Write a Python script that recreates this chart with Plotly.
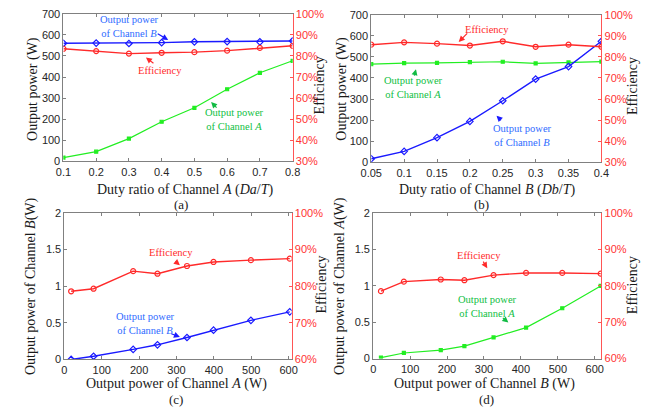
import plotly.graph_objects as go

# ---- data -------------------------------------------------------------
a_duty = [0.1, 0.2, 0.3, 0.4, 0.5, 0.6, 0.7, 0.8]
a_pB = [560, 561, 559, 563, 567, 568, 567, 571]
a_pA = [18, 46, 108, 188, 254, 342, 420, 477]
a_eff = [83.4, 82.3, 81.1, 81.5, 81.8, 82.5, 83.8, 84.8]

b_duty = [0.05, 0.1, 0.15, 0.2, 0.25, 0.3, 0.35, 0.4]
b_pA = [466, 471, 472, 475, 477, 469, 474, 478]
b_pB = [17, 52, 117, 194, 292, 395, 454, 574]
b_eff = [85.8, 86.9, 86.3, 85.4, 87.4, 84.8, 85.8, 84.8]

c_pA = [18, 78, 184, 249, 328, 399, 499, 603]
c_pB = [0.0, 0.044, 0.137, 0.2, 0.3, 0.4, 0.534, 0.65]
c_eff = [78.6, 79.3, 84.1, 83.4, 85.5, 86.6, 87.1, 87.5]

d_pB = [21, 83, 183, 247, 326, 414, 512, 616]
d_pA = [0.013, 0.076, 0.116, 0.17, 0.29, 0.424, 0.69, 0.996]
d_eff = [78.5, 81.1, 81.7, 81.5, 82.9, 83.5, 83.5, 83.3]

a_xticks = [0.1, 0.2, 0.3, 0.4, 0.5, 0.6, 0.7, 0.8]
a_xtext = ["0.1", "0.2", "0.3", "0.4", "0.5", "0.6", "0.7", "0.8"]
b_xticks = [0.05, 0.1, 0.15, 0.2, 0.25, 0.3, 0.35, 0.4]
b_xtext = ["0.05", "0.1", "0.15", "0.2", "0.25", "0.3", "0.35", "0.4"]
cd_xticks = [0, 100, 200, 300, 400, 500, 600]
top_yticks = [0, 100, 200, 300, 400, 500, 600, 700]
bot_yticks = [0, 0.5, 1, 1.5, 2]
bot_ytext = ["0", "0.5", "1", "1.5", "2"]
top_efftick = [30, 40, 50, 60, 70, 80, 90, 100]
bot_efftick = [60, 70, 80, 90, 100]

# ---- style ------------------------------------------------------------
W, H = 656, 415
BLUE, RED, GREEN = "#1a1aff", "#ff2a2a", "#22ee22"
BLUE_T, RED_T, GREEN_T = "#2f6bff", "#ff2a2a", "#11c044"
AXC = "#808080"
RAXC = "#ff5555"
TICKF = dict(family="Liberation Sans", size=11, color="#262626")
SERIF = "Liberation Serif"


def px(x):
    return x / W


def py(y):
    return 1 - y / H


def line(x, y, color, marker, size, xa, ya, width=1.4):
    return go.Scatter(
        x=x, y=y, mode="lines+markers", xaxis=xa, yaxis=ya,
        line=dict(color=color, width=width),
        marker=dict(symbol=marker, size=size, color=color,
                    line=dict(color=color, width=1.2)),
        showlegend=False, hoverinfo="skip")


fig = go.Figure()
# (a)
fig.add_trace(line(a_duty, a_pB, BLUE, "diamond-open", 5, "x", "y"))
fig.add_trace(line(a_duty, a_pA, GREEN, "square", 3, "x", "y", 1.2))
fig.add_trace(line(a_duty, a_eff, RED, "circle-open", 5, "x", "y2"))
# (b)
fig.add_trace(line(b_duty, b_pA, GREEN, "square", 3, "x2", "y3", 1.2))
fig.add_trace(line(b_duty, b_pB, BLUE, "diamond-open", 5, "x2", "y3"))
fig.add_trace(line(b_duty, b_eff, RED, "circle-open", 5, "x2", "y4"))
# (c)
fig.add_trace(line(c_pA, c_pB, BLUE, "diamond-open", 5, "x3", "y5"))
fig.add_trace(line(c_pA, c_eff, RED, "circle-open", 5, "x3", "y6"))
# (d)
fig.add_trace(line(d_pB, d_pA, GREEN, "square", 3, "x4", "y7", 1.2))
fig.add_trace(line(d_pB, d_eff, RED, "circle-open", 5, "x4", "y8"))


def xax(dom, rng, tv, tt, anchor):
    return dict(domain=dom, range=rng, anchor=anchor, tickvals=tv, ticktext=tt,
                showgrid=False, zeroline=False, showline=True, linecolor=AXC,
                linewidth=1, mirror="ticks", ticks="inside", ticklen=3,
                tickcolor=AXC, tickfont=TICKF)


def yax(dom, rng, tv, tt, anchor):
    return dict(domain=dom, range=rng, anchor=anchor, tickvals=tv, ticktext=tt,
                showgrid=False, zeroline=False, showline=True, linecolor=AXC,
                linewidth=1, ticks="inside", ticklen=3, tickcolor=AXC,
                tickfont=TICKF)


def effax(overlay, anchor, rng, tv):
    return dict(overlaying=overlay, anchor=anchor, side="right", range=rng,
                tickvals=tv, ticktext=[f"{v}%" for v in tv],
                showgrid=False, zeroline=False, showline=True, linecolor=RAXC,
                linewidth=1, ticks="inside", ticklen=3, tickcolor=RAXC,
                tickfont=dict(family="Liberation Sans", size=11,
                              color="#ff3333"))


fig.update_layout(
    width=W, height=H, margin=dict(l=0, r=0, t=0, b=0),
    paper_bgcolor="white", plot_bgcolor="white",
    xaxis=xax([px(54), px(290)], [0.1, 0.8], a_xticks, a_xtext, "y"),
    yaxis=yax([py(160), py(8)], [0, 700], top_yticks,
              [str(v) for v in top_yticks], "x"),
    yaxis2=effax("y", "x", [30, 100], top_efftick),
    xaxis2=xax([px(371), px(608)], [0.05, 0.4], b_xticks, b_xtext, "y3"),
    yaxis3=yax([py(161), py(9)], [0, 700], top_yticks,
               [str(v) for v in top_yticks], "x2"),
    yaxis4=effax("y3", "x2", [30, 100], top_efftick),
    xaxis3=xax([px(55), px(289)], [0, 608], cd_xticks,
               [str(v) for v in cd_xticks], "y5"),
    yaxis5=yax([py(364), py(213)], [0, 2], bot_yticks, bot_ytext, "x3"),
    yaxis6=effax("y5", "x3", [60, 100], bot_efftick),
    xaxis4=xax([px(373), px(608)], [0, 618], cd_xticks,
               [str(v) for v in cd_xticks], "y7"),
    yaxis7=yax([py(363), py(213)], [0, 2], bot_yticks, bot_ytext, "x4"),
    yaxis8=effax("y7", "x4", [60, 100], bot_efftick),
)

ann = []


def text(x, y, s, size=14, color="#1a1a1a", angle=0):
    ann.append(dict(x=px(x), y=py(y), xref="paper", yref="paper", text=s,
                    showarrow=False, textangle=angle, xanchor="center",
                    yanchor="middle",
                    font=dict(family=SERIF, size=size, color=color)))


def arrow(xr, yr, x, y, ax, ay, color):
    ann.append(dict(x=x, y=y, xref=xr, yref=yr, ax=ax, ay=ay, text="",
                    showarrow=True, arrowhead=2, arrowsize=1, arrowwidth=1.2,
                    arrowcolor=color, standoff=0, startstandoff=0))


# axis titles and panel labels
text(180, 189, "Duty ratio of Channel <i>A</i> (<i>Da</i>/<i>T</i>)", 14)
text(175, 204, "(a)", 13)
text(22, 85, "Output power (W)", angle=-90)
text(318, 82, "Efficiency", angle=-90)

text(491, 189, "Duty ratio of Channel <i>B</i> (<i>Db</i>/<i>T</i>)", 14)
text(485, 204, "(b)", 13)
text(340, 85, "Output power (W)", angle=-90)
text(640, 82, "Efficiency", angle=-90)

text(170, 389, "Output power of Channel <i>A</i> (W)", 14)
text(170, 405, "(c)", 13)
text(20, 288, "Output power of Channel <i>B</i>(W)", angle=-90)
text(320, 287, "Efficiency", angle=-90)

text(488, 389, "Output power of Channel <i>B</i> (W)", 14)
text(490, 405, "(d)", 13)
text(338, 288, "Output power of Channel <i>A</i>(W)", angle=-90)
text(640, 287, "Efficiency", angle=-90)

# callouts
CS = 10.5
text(122, 21, "Output power<br>of Channel <i>B</i>", CS, BLUE_T)
arrow("x", "y", 0.42, 576, -12, -7, BLUE)
text(153, 66, "Efficiency", CS, RED_T)
arrow("x", "y", 0.352, 493, 9, 7, RED)
text(230, 117, "Output power<br>of Channel <i>A</i>", CS, GREEN_T)
arrow("x", "y", 0.551, 281, 7, 7, "#11bb44")

text(490, 24, "Efficiency", CS, RED_T)
arrow("x2", "y3", 0.183, 571, 10, -10, RED)
text(414, 84, "Output power<br>of Channel <i>A</i>", CS, GREEN_T)
arrow("x2", "y3", 0.118, 442, -2, 8, "#11bb44")
text(527, 133, "Output power<br>of Channel <i>B</i>", CS, BLUE_T)
arrow("x2", "y3", 0.2405, 221, 6, 6, BLUE)

text(165, 254, "Efficiency", CS, RED_T)
arrow("x3", "y5", 309, 1.285, -6, -5, RED)
text(138, 327, "Output power<br>of Channel <i>B</i>", CS, BLUE_T)
arrow("x3", "y5", 309, 0.305, -10, -4, BLUE)

text(482, 257, "Efficiency", CS, RED_T)
arrow("x4", "y7", 309, 1.24, -5, -8, RED)
text(491, 309, "Output power<br>of Channel <i>A</i>", CS, GREEN_T)
arrow("x4", "y7", 366, 0.493, -7, -6, "#11bb44")

fig.update_layout(annotations=ann)
fig.write_html("out.html")
